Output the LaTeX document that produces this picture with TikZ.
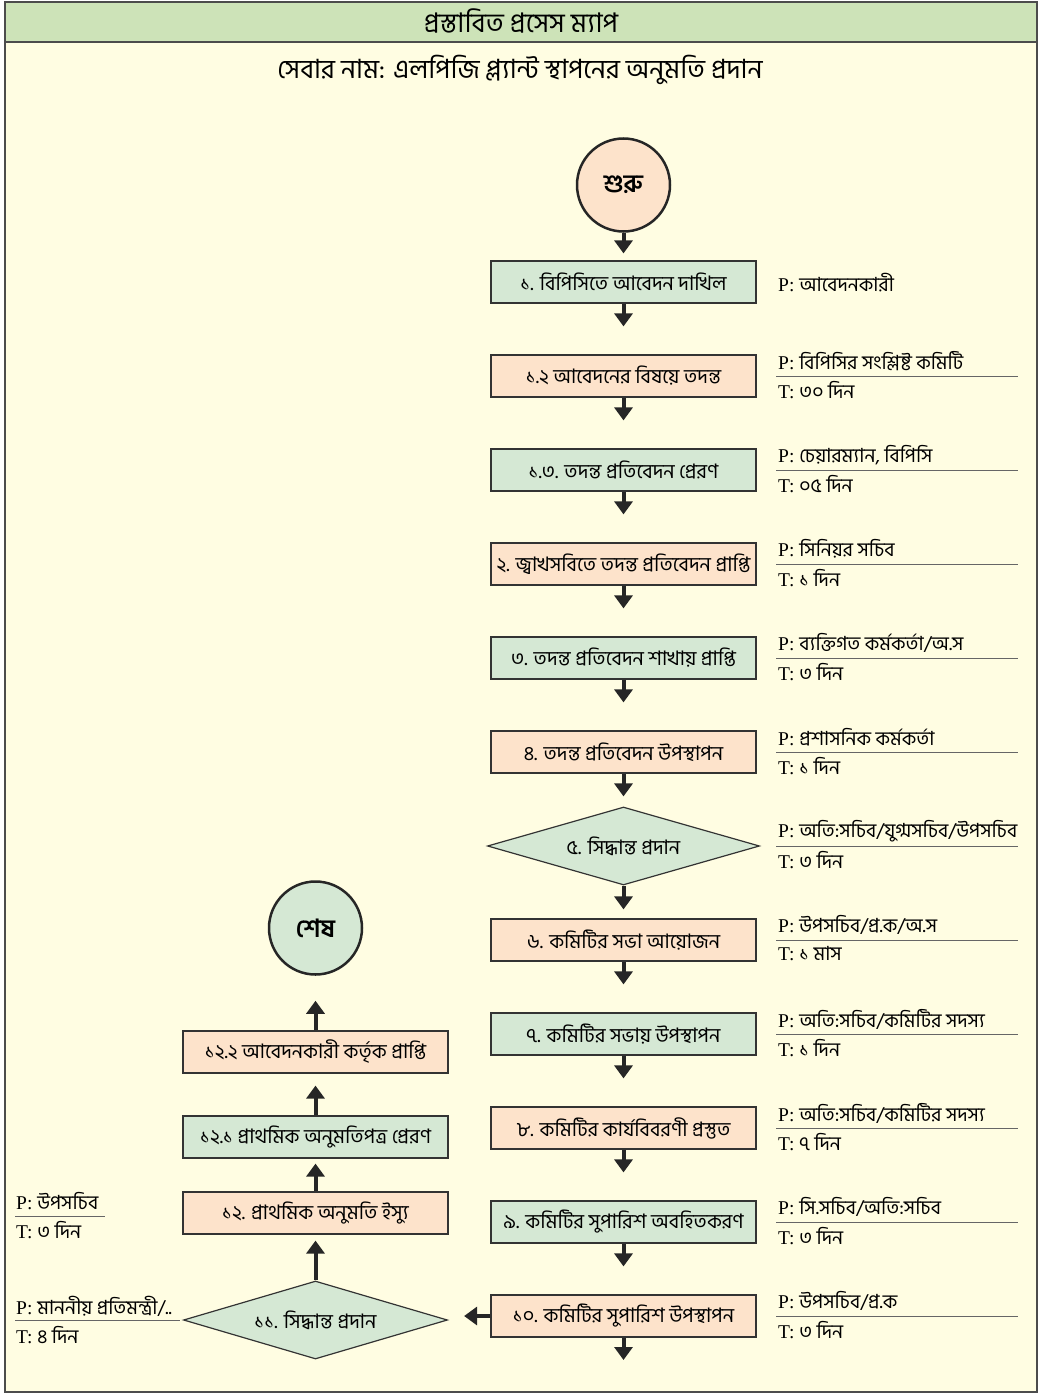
\documentclass[tikz,border=0pt]{standalone}
\usepackage{fontspec}
\setmainfont{Liberation Serif}
\newfontfamily\bn[Script=Bengali]{Hind Siliguri}
\usetikzlibrary{shapes.geometric,arrows.meta}
\definecolor{boxgreen}{HTML}{D5E8D4}
\definecolor{boxpeach}{HTML}{FDE3CB}
\definecolor{paper}{HTML}{FFFDE2}
\definecolor{band}{HTML}{CDE3B8}

\begin{document}
\begin{tikzpicture}[x=1pt,y=-1pt,
    stepbox/.style={draw=black!80, line width=1.2pt, minimum width=265pt, minimum height=42pt, inner sep=0pt, font=\bn\fontsize{20}{22}\selectfont},
    greenbox/.style={stepbox, fill=boxgreen},
    peachbox/.style={stepbox, fill=boxpeach},
    decision/.style={diamond, aspect=3.5, draw=black!80, line width=1.2pt, fill=boxgreen, minimum width=272pt, minimum height=78pt, inner sep=0pt, font=\bn\fontsize{20}{22}\selectfont},
    terminal/.style={circle, draw=black!85, line width=2.5pt, minimum size=93pt, inner sep=0pt, font=\bn\bfseries\fontsize{25}{27}\selectfont},
    flow/.style={black!85, line width=4pt, -{Triangle[width=18pt,length=13pt]}, shorten >=28pt},
    info/.style={anchor=west, inner sep=0pt, font=\fontsize{19.5}{21}\selectfont},
    rule/.style={black!60, line width=1pt}]
    \useasboundingbox (0,0) rectangle (1041,1394);
    \filldraw[fill=paper, draw=black!70, line width=1.5pt] (5,2) rectangle (1037,1392);
    \filldraw[fill=band, draw=black!70, line width=1.5pt] (5,2) rectangle (1037,42);

    \node[font=\bn\fontsize{27}{29}\selectfont] (title) at (521,21) {প্রস্তাবিত প্রসেস ম্যাপ};
    \node[font=\bn\fontsize{26.5}{29}\selectfont] (service) at (520,70) {সেবার নাম: এলপিজি প্ল্যান্ট স্থাপনের অনুমতি প্রদান};

    % main column
    \node[terminal, fill=boxpeach] (start) at (623.5,185) {শুরু};
    \node[greenbox] (b1) at (623.5,282) {১. বিপিসিতে আবেদন দাখিল};
    \node[peachbox] (b12) at (623.5,376) {১.২ আবেদনের বিষয়ে তদন্ত};
    \node[greenbox] (b13) at (623.5,470) {১.৩. তদন্ত প্রতিবেদন প্রেরণ};
    \node[peachbox] (b2) at (623.5,564) {২. জ্বাখসবিতে তদন্ত প্রতিবেদন প্রাপ্তি};
    \node[greenbox] (b3) at (623.5,658) {৩. তদন্ত প্রতিবেদন শাখায় প্রাপ্তি};
    \node[peachbox] (b4) at (623.5,752) {৪. তদন্ত প্রতিবেদন উপস্থাপন};
    \node[decision] (d5) at (623.5,846) {৫. সিদ্ধান্ত প্রদান};
    \node[peachbox] (b6) at (623.5,940) {৬. কমিটির সভা আয়োজন};
    \node[greenbox] (b7) at (623.5,1034) {৭. কমিটির সভায় উপস্থাপন};
    \node[peachbox] (b8) at (623.5,1128) {৮. কমিটির কার্যবিবরণী প্রস্তুত};
    \node[greenbox] (b9) at (623.5,1222) {৯. কমিটির সুপারিশ অবহিতকরণ};
    \node[peachbox] (b10) at (623.5,1316) {১০. কমিটির সুপারিশ উপস্থাপন};
    \coordinate (tail) at (623.5,1388);

    % return column
    \node[decision, minimum width=264pt] (d11) at (315.5,1320) {১১. সিদ্ধান্ত প্রদান};
    \node[peachbox] (b120) at (315.5,1213) {১২. প্রাথমিক অনুমতি ইস্যু};
    \node[greenbox] (b121) at (315.5,1137) {১২.১ প্রাথমিক অনুমতিপত্র প্রেরণ};
    \node[peachbox] (b122) at (315.5,1052) {১২.২ আবেদনকারী কর্তৃক প্রাপ্তি};
    \node[terminal, fill=boxgreen] (stop) at (315.5,928) {শেষ};

    \draw[flow, shorten >=7pt] (start) -- (b1);
    \draw[flow] (b1) -- (b12);
    \draw[flow] (b12) -- (b13);
    \draw[flow] (b13) -- (b2);
    \draw[flow] (b2) -- (b3);
    \draw[flow] (b3) -- (b4);
    \draw[flow, shorten >=10pt] (b4) -- (d5);
    \draw[flow, shorten >=9pt] (d5) -- (b6);
    \draw[flow] (b6) -- (b7);
    \draw[flow] (b7) -- (b8);
    \draw[flow] (b8) -- (b9);
    \draw[flow] (b9) -- (b10);
    \draw[flow] (b10) -- (tail);
    \draw[flow, shorten >=16pt] (b10.west) -- (b10.west -| d11.east);
    \draw[flow, shorten >=6pt] (d11) -- (b120);
    \draw[flow, shorten >=5pt] (b120) -- (b121);
    \draw[flow, shorten >=12pt] (b121) -- (b122);
    \draw[flow, shorten >=25pt] (b122) -- (stop);

    % persons and times
    \node[info] (p1) at (778,283) {P: {\bn আবেদনকারী}};
    \node[info] (p12) at (778,361) {P: {\bn বিপিসির সংশ্লিষ্ট কমিটি}};
    \node[info] (t12) at (778,390) {T: {\bn ৩০ দিন}};
    \draw[rule] (776,376) -- (1018,376);
    \node[info] (p13) at (778,455) {P: {\bn চেয়ারম্যান, বিপিসি}};
    \node[info] (t13) at (778,484) {T: {\bn ০৫ দিন}};
    \draw[rule] (776,470) -- (1018,470);
    \node[info] (p2) at (778,549) {P: {\bn সিনিয়র সচিব}};
    \node[info] (t2) at (778,578) {T: {\bn ১ দিন}};
    \draw[rule] (776,564) -- (1018,564);
    \node[info] (p3) at (778,643) {P: {\bn ব্যক্তিগত কর্মকর্তা/অ.স}};
    \node[info] (t3) at (778,672) {T: {\bn ৩ দিন}};
    \draw[rule] (776,658) -- (1018,658);
    \node[info] (p4) at (778,737) {P: {\bn প্রশাসনিক কর্মকর্তা}};
    \node[info] (t4) at (778,766) {T: {\bn ১ দিন}};
    \draw[rule] (776,752) -- (1018,752);
    \node[info] (p5) at (778,831) {P: {\bn অতি:সচিব/যুগ্মসচিব/উপসচিব}};
    \node[info] (t5) at (778,860) {T: {\bn ৩ দিন}};
    \draw[rule] (776,846) -- (1018,846);
    \node[info] (p6) at (778,925) {P: {\bn উপসচিব/প্র.ক/অ.স}};
    \node[info] (t6) at (778,954) {T: {\bn ১ মাস}};
    \draw[rule] (776,940) -- (1018,940);
    \node[info] (p7) at (778,1019) {P: {\bn অতি:সচিব/কমিটির সদস্য}};
    \node[info] (t7) at (778,1048) {T: {\bn ১ দিন}};
    \draw[rule] (776,1034) -- (1018,1034);
    \node[info] (p8) at (778,1113) {P: {\bn অতি:সচিব/কমিটির সদস্য}};
    \node[info] (t8) at (778,1142) {T: {\bn ৭ দিন}};
    \draw[rule] (776,1128) -- (1018,1128);
    \node[info] (p9) at (778,1207) {P: {\bn সি.সচিব/অতি:সচিব}};
    \node[info] (t9) at (778,1236) {T: {\bn ৩ দিন}};
    \draw[rule] (776,1222) -- (1018,1222);
    \node[info] (p10) at (778,1301) {P: {\bn উপসচিব/প্র.ক}};
    \node[info] (t10) at (778,1330) {T: {\bn ৩ দিন}};
    \draw[rule] (776,1316) -- (1018,1316);

    \node[info] (p120) at (16,1201) {P: {\bn উপসচিব}};
    \node[info] (t120) at (16,1230) {T: {\bn ৩ দিন}};
    \draw[rule] (15,1216) -- (105,1216);
    \node[info] (p11) at (16,1306) {P: {\bn মাননীয় প্রতিমন্ত্রী/..}};
    \node[info] (t11) at (16,1335) {T: {\bn ৪ দিন}};
    \draw[rule] (15,1320) -- (180,1320);
\end{tikzpicture}
\end{document}
